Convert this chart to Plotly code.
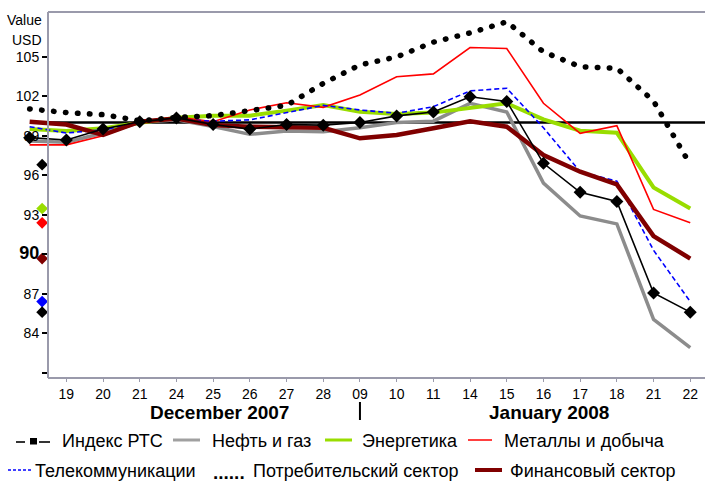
import plotly.graph_objects as go

# ---------------- data ----------------
days = ["18", "19", "20", "21", "24", "25", "26", "27", "28", "09", "10", "11",
        "14", "15", "16", "17", "18", "21", "22"]
xpos = list(range(-1, len(days) - 1))   # first day (18 Dec) lies left of the axis

rts = [98.85, 98.67, 99.5, 100.05, 100.35, 99.85, 99.5, 99.85, 99.8, 100.0, 100.5,
       100.8, 101.95, 101.6, 96.9, 94.7, 94.0, 87.05, 85.6]
oil = [98.6, 98.5, 99.2, 100.0, 100.2, 99.7, 99.1, 99.35, 99.3, 99.6, 100.0,
       100.1, 101.45, 100.8, 95.4, 92.9, 92.3, 85.05, 82.9]
energy = [99.5, 99.35, 99.56, 100.0, 100.37, 100.52, 100.52, 100.9, 101.33, 100.82,
          100.65, 100.75, 101.08, 101.46, 100.24, 99.38, 99.22, 95.07, 93.47]
metals = [98.3, 98.3, 99.0, 100.0, 100.44, 100.06, 100.95, 101.5, 101.15, 102.09,
          103.48, 103.69, 105.69, 105.62, 101.46, 99.18, 99.76, 93.4, 92.38]
telecom = [99.68, 99.2, 99.45, 100.0, 100.25, 100.1, 100.2, 100.75, 101.3, 100.95,
           100.7, 101.2, 102.4, 102.6, 99.6, 96.26, 95.55, 90.3, 86.4]
consumer = [101.03, 100.75, 100.6, 100.13, 100.38, 100.52, 100.9, 101.3, 102.97, 104.37,
            104.98, 106.1, 106.8, 107.65, 105.36, 104.24, 104.12, 101.63, 96.8]
finance = [100.06, 99.85, 99.05, 100.06, 100.3, 99.8, 99.68, 99.68, 99.6, 98.8,
           99.05, 99.56, 100.1, 99.68, 97.53, 96.26, 95.3, 91.37, 89.67]

base_value = 100
ytick_vals = [81, 84, 87, 90, 93, 96, 99, 102, 105]
ytick_text = ["", "84", "87", '<span style="font-size:18px"><b>90</b></span>',
              "93", "96", "99", "102", "105"]

names = ["Индекс РТС", "Нефть и газ", "Энергетика", "Металлы и добыча",
         "Телекоммуникации", "Потребительский сектор", "Финансовый сектор"]

# ---------------- geometry helpers (pixel -> paper) ----------------
W, H = 705, 482
L, R, T, B = 20, 705, 12, 378
AXIS_X = 48          # pixel column of the value axis


def px(x):
    return (x - L) / (R - L)


def py(y):
    return (B - y) / (B - T)


fig = go.Figure()

AX_COL = "#9a9aab"
# plot frame (top/bottom) starting at the value axis
fig.add_shape(type="line", xref="paper", yref="paper", x0=px(AXIS_X), x1=1, y0=1, y1=1,
              line=dict(color=AX_COL, width=2))
fig.add_shape(type="line", xref="paper", yref="paper", x0=px(AXIS_X), x1=1, y0=0, y1=0,
              line=dict(color=AX_COL, width=2))
# reference line at 100
fig.add_shape(type="line", xref="paper", yref="y", x0=px(AXIS_X), x1=1, y0=base_value, y1=base_value,
              line=dict(color="black", width=2.5), layer="below")

common = dict(mode="lines", showlegend=False, hoverinfo="skip")
fig.add_trace(go.Scatter(x=xpos, y=oil, line=dict(color="#8c8c8c", width=3.5), **common))
fig.add_trace(go.Scatter(x=xpos, y=energy, line=dict(color="#99dd00", width=4), **common))
fig.add_trace(go.Scatter(x=xpos, y=metals, line=dict(color="#ff0000", width=1.6), **common))
fig.add_trace(go.Scatter(x=xpos, y=telecom, line=dict(color="#0000ff", width=1.6, dash="5px,3px"), **common))
fig.add_trace(go.Scatter(x=xpos, y=finance, line=dict(color="#800000", width=4.5), **common))
fig.add_trace(go.Scatter(x=xpos, y=consumer, line=dict(color="black", width=5.5, dash="0.5px,11.5px"), **common))
fig.add_trace(go.Scatter(x=xpos, y=rts, mode="lines+markers", cliponaxis=False, showlegend=False,
                         hoverinfo="skip", line=dict(color="black", width=1.6),
                         marker=dict(symbol="diamond", size=10, color="black")))

# end-value markers just left of the value axis
end_series = [consumer, energy, metals, finance, telecom, rts]
end_colors = ["black", "#99dd00", "#ff0000", "#800000", "#0000ff", "black"]
fig.add_trace(go.Scatter(x=[-0.66] * len(end_series), y=[s[-1] for s in end_series],
                         mode="markers", cliponaxis=False, showlegend=False, hoverinfo="skip",
                         marker=dict(symbol="diamond", size=9, color=end_colors)))

ann = []
# axis header
ann.append(dict(text="Value", x=px(44), y=py(20), xref="paper", yref="paper",
                xanchor="right", yanchor="middle", showarrow=False, font=dict(size=14)))
ann.append(dict(text="USD", x=px(44), y=py(40), xref="paper", yref="paper",
                xanchor="right", yanchor="middle", showarrow=False, font=dict(size=14)))
# month labels
ann.append(dict(text="<b>December 2007</b>", x=px(219), y=py(412), xref="paper", yref="paper",
                xanchor="center", yanchor="middle", showarrow=False, font=dict(size=19)))
ann.append(dict(text="<b>January 2008</b>", x=px(549), y=py(412), xref="paper", yref="paper",
                xanchor="center", yanchor="middle", showarrow=False, font=dict(size=19)))
fig.add_shape(type="line", xref="x", yref="paper", x0=8, x1=8, y0=py(402), y1=py(420),
              line=dict(color="black", width=2))

# custom legend
r1, r2 = 441, 471
leg_text = [(names[0], 60, r1), (names[1], 210, r1), (names[2], 360, r1), (names[3], 502, r1),
            (names[4], 33, r2), (names[5], 251, r2), (names[6], 508, r2)]
for t, x0, y0 in leg_text:
    ann.append(dict(text=t, x=px(x0), y=py(y0), xref="paper", yref="paper",
                    xanchor="left", yanchor="middle", showarrow=False, font=dict(size=18)))
ann.append(dict(text="<b>......</b>", x=px(211), y=py(r2 + 1), xref="paper", yref="paper",
                xanchor="left", yanchor="middle", showarrow=False, font=dict(size=19)))

leg_lines = [(16, 25, r1 + 1, "black", 1.6, "solid"), (39, 50, r1 + 1, "black", 1.6, "solid"),
             (173, 200, r1 - 1, "#a0a0a0", 3, "solid"), (325, 352, r1 - 1, "#99dd00", 3, "solid"),
             (468, 492, r1 - 1, "#ff0000", 1.5, "solid"),
             (8, 32, r2 - 1, "#0000ff", 1.5, "3px,2px"), (475, 502, r2 - 1, "#800000", 4, "solid")]
for x0, x1, y0, c, w, d in leg_lines:
    fig.add_shape(type="line", xref="paper", yref="paper", x0=px(x0), x1=px(x1), y0=py(y0), y1=py(y0),
                  line=dict(color=c, width=w, dash=d))
fig.add_shape(type="rect", xref="paper", yref="paper", x0=px(30), x1=px(37), y0=py(444.5), y1=py(438),
              line=dict(width=0), fillcolor="black")

unit = 36.7
fig.update_layout(
    width=W, height=H,
    margin=dict(l=L, r=W - R, t=T, b=H - B),
    plot_bgcolor="white", paper_bgcolor="white",
    font=dict(family="Liberation Sans, Arial, sans-serif", color="black", size=14),
    annotations=ann,
    xaxis=dict(range=[-(66.35 - L) / unit, (R - 66.35) / unit], tickvals=xpos[1:], ticktext=days[1:],
               showgrid=False, zeroline=False, showline=False,
               ticks="outside", ticklen=3, tickcolor=AX_COL, tickwidth=1,
               tickfont=dict(size=14)),
    yaxis=dict(range=[80.6, 108.39], tickvals=ytick_vals, ticktext=ytick_text, showgrid=False,
               zeroline=False, showline=True, linecolor=AX_COL, linewidth=2,
               anchor="free", position=px(AXIS_X),
               ticks="outside", ticklen=5, tickwidth=2, tickcolor="black",
               tickfont=dict(size=14)),
)

post = """
function fixDots(){
  document.querySelectorAll('.scatterlayer .trace path.js-line').forEach(function(p){
    var d = p.style.strokeDasharray || '';
    if (d.indexOf('11.5') >= 0) { p.style.strokeLinecap = 'round'; }
  });
}
fixDots();
var gdv = document.getElementById('{plot_id}');
if (gdv && gdv.on) { gdv.on('plotly_afterplot', fixDots); }
"""
fig.write_html("out.html", post_script=post, config={"displayModeBar": False})

with open("out.html", "r", encoding="utf-8") as f:
    html = f.read()
html = html.replace("<head>", "<head><style>html,body{margin:0;padding:0;overflow:hidden;}</style>", 1)
with open("out.html", "w", encoding="utf-8") as f:
    f.write(html)
